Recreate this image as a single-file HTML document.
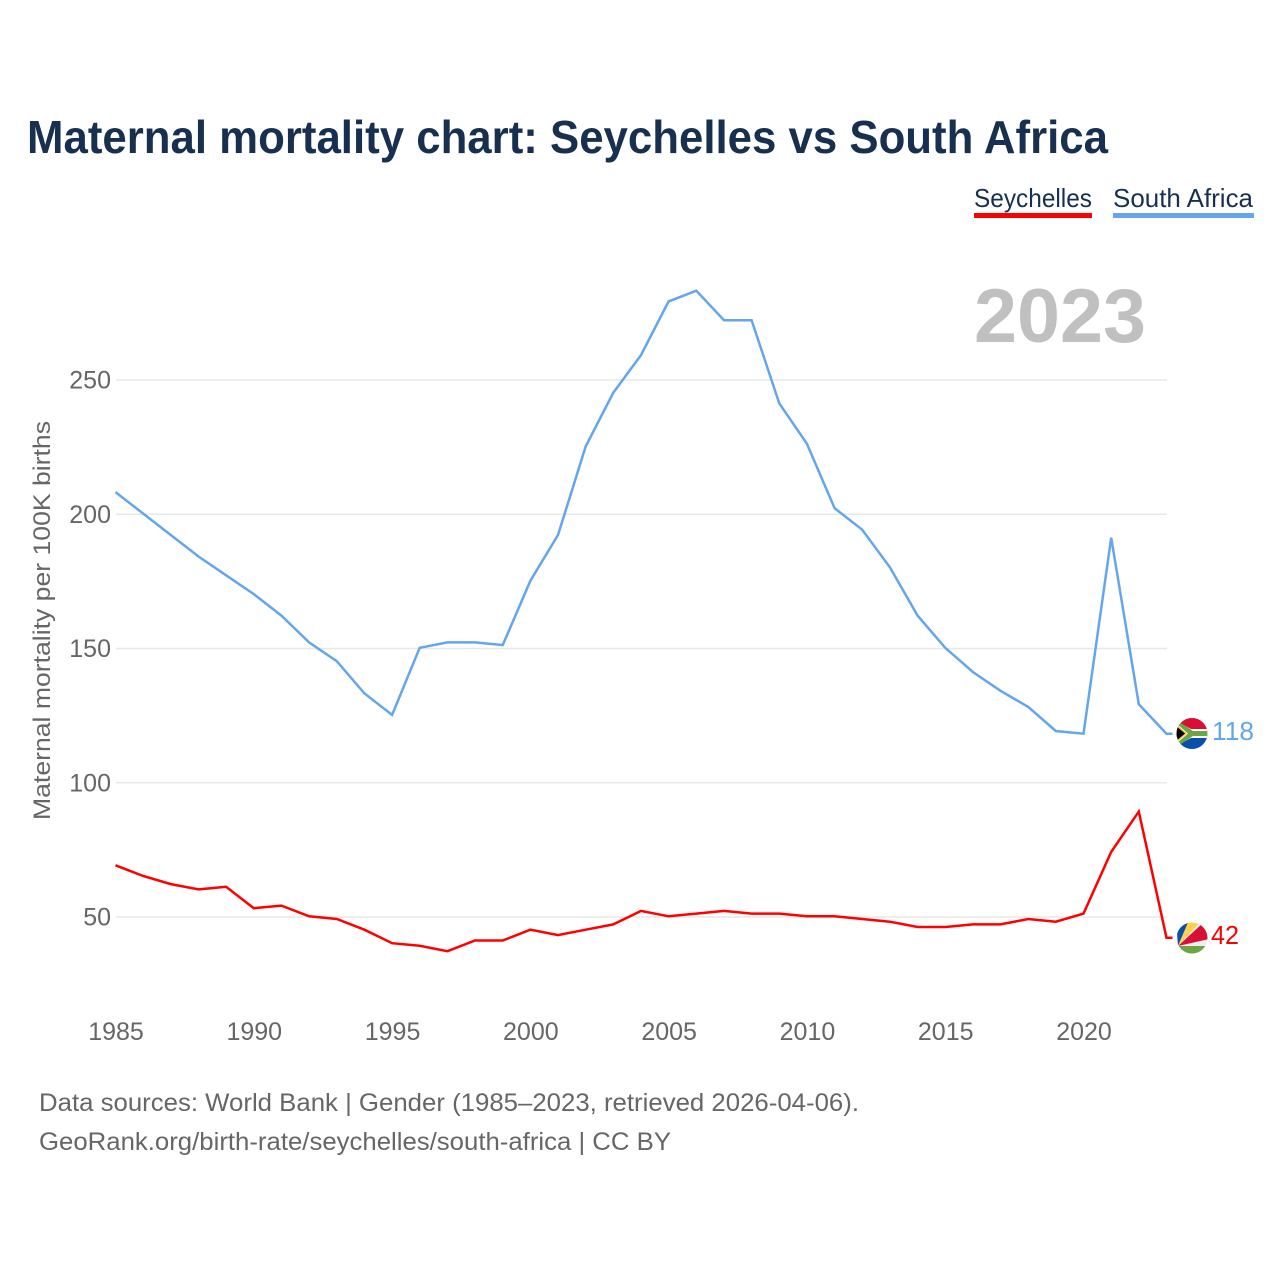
<!DOCTYPE html>
<html lang="en">
<head>
<meta charset="utf-8">
<title>Maternal mortality chart: Seychelles vs South Africa</title>
<style>
html,body{margin:0;padding:0;background:#fff;}
svg{display:block;font-family:"Liberation Sans",sans-serif;}
</style>
</head>
<body>
<svg id="chart" xmlns="http://www.w3.org/2000/svg" width="1280" height="1280" viewBox="0 0 1280 1280">
  <rect width="1280" height="1280" fill="#fff"/>
  <text x="27" y="153" font-size="46" font-weight="700" fill="#18304f" textLength="1081" lengthAdjust="spacingAndGlyphs">Maternal mortality chart: Seychelles vs South Africa</text>

  <g>
    <text x="974" y="207" font-size="26" fill="#18304f" textLength="118" lengthAdjust="spacingAndGlyphs">Seychelles</text>
    <rect x="974" y="213" width="118" height="5" fill="#ff0000"/>
  </g>
  <g>
    <text x="1113" y="207" font-size="26" fill="#18304f" textLength="140" lengthAdjust="spacingAndGlyphs">South Africa</text>
    <rect x="1113" y="213" width="141" height="5" fill="#63a6ec"/>
  </g>

  <text x="974" y="342" font-size="76" font-weight="700" fill="#c0c0c0" textLength="172" lengthAdjust="spacingAndGlyphs">2023</text>

  <text transform="translate(50,820) rotate(-90)" font-size="24.5" fill="#666" textLength="399" lengthAdjust="spacingAndGlyphs">Maternal mortality per 100K births</text>

  <g id="y-axis"></g>
  <g id="x-axis"></g>
  <g id="series" transform="translate(-0.5,-0.7)"></g>

  <defs>
    <clipPath id="clip-za"><circle cx="1192" cy="733.500" r="15.500"/></clipPath>
    <clipPath id="clip-sc"><circle cx="1192" cy="938" r="15.500"/></clipPath>
  </defs>

  <g clip-path="url(#clip-za)">
    <rect x="1176" y="717" width="32" height="16" fill="#d90f36"/>
    <rect x="1176" y="733" width="32" height="17" fill="#0a4fb0"/>
    <path d="M1176 720 L1193 733.500 L1176 747 Z" fill="#f7c52e"/>
    <path d="M1176 721 L1191 729 H1208 V738 H1191 L1176 746 V743 L1187 733.500 L1176 724 Z" fill="#fff"/>
    <path d="M1178 721 L1193 731 H1208 V736 H1193 L1178 746 L1176 744 L1188 733.500 L1176 723 Z" fill="#6ea544"/>
    <path d="M1176 726 L1185 733.500 L1176 741 Z" fill="#000"/>
  </g>

  <g clip-path="url(#clip-sc)">
    <rect x="1176" y="922" width="32" height="32" fill="#eeeeee"/>
    <path d="M1178 946 L1176 918 L1190 918 Z" fill="#0a4fa8"/>
    <path d="M1178 946 L1190 918 L1204 918 Z" fill="#fdd24a"/>
    <path d="M1178 946 L1204 922 L1209 932 L1209 939 Z" fill="#d90f36"/>
    <path d="M1178 946 L1209 946 L1209 956 L1178 956 Z" fill="#6ea544"/>
  </g>

  <text id="end-label-south-africa" x="1212" y="740" font-size="26" fill="#63a6ec" textLength="42" lengthAdjust="spacingAndGlyphs"></text>
  <text id="end-label-seychelles" x="1211" y="944" font-size="26" fill="#ff0000" textLength="28" lengthAdjust="spacingAndGlyphs"></text>

  <text x="39" y="1111" font-size="25" fill="#666" textLength="820" lengthAdjust="spacingAndGlyphs">Data sources: World Bank | Gender (1985–2023, retrieved 2026-04-06).</text>
  <text x="39" y="1150" font-size="25" fill="#666" textLength="632" lengthAdjust="spacingAndGlyphs">GeoRank.org/birth-rate/seychelles/south-africa | CC BY</text>
</svg>
<script>
const years = [1985,1986,1987,1988,1989,1990,1991,1992,1993,1994,1995,1996,1997,1998,1999,2000,2001,2002,2003,2004,2005,2006,2007,2008,2009,2010,2011,2012,2013,2014,2015,2016,2017,2018,2019,2020,2021,2022,2023];
const southAfrica = [208,200,192,184,177,170,162,152,145,133,125,150,152,152,151,175,192,225,245,259,279,283,272,272,241,226,202,194,180,162,150,141,134,128,119,118,191,129,118];
const seychelles = [69,65,62,60,61,53,54,50,49,45,40,39,37,41,41,45,43,45,47,52,50,51,52,51,51,50,50,49,48,46,46,47,47,49,48,51,74,89,42];
const yTicks = [50,100,150,200,250];
const xTicks = [1985,1990,1995,2000,2005,2010,2015,2020];

const NS = 'http://www.w3.org/2000/svg';
function xScale(year){ return 116 + (year - 1985) * (1084 - 116) / 35; }
function yScale(v){ return 917 - (v - 50) * (917 - 380) / 200; }
function make(tag, attrs, parent){
  const el = document.createElementNS(NS, tag);
  for (const k in attrs) el.setAttribute(k, attrs[k]);
  parent.appendChild(el);
  return el;
}

const yAxis = document.getElementById('y-axis');
yTicks.forEach(function(t){
  const line = make('line', {x1:116, x2:1167, y1:yScale(t), y2:yScale(t), stroke:'#e8e8e8', 'stroke-width':1.5}, yAxis);
  
  
  const label = make('text', {x:111, y:yScale(t) + 8.500, 'font-size':25, fill:'#666', 'text-anchor':'end'}, yAxis);
  
  
  label.textContent = t;
});

const xAxis = document.getElementById('x-axis');
xTicks.forEach(function(t){
  const label = make('text', {x:xScale(t), y:1040, 'font-size':25, fill:'#666', 'text-anchor':'middle'}, xAxis);
  
  
  label.textContent = t;
});

function drawSeries(values, color, name){
  const pts = values.map(function(v, i){ return xScale(years[i]).toFixed(1) + ',' + yScale(v).toFixed(1); });
  const last = values[values.length - 1];
  pts.push((xScale(years[years.length - 1]) + 6).toFixed(1) + ',' + yScale(last).toFixed(1));
  const line = make('polyline', {points:pts.join(' '), fill:'none', stroke:color, 'stroke-width':2.5, 'stroke-linejoin':'miter'}, document.getElementById('series'));
  
  
}
drawSeries(southAfrica, '#63a6ec', 'line-south-africa');
drawSeries(seychelles, '#ff0000', 'line-seychelles');

document.getElementById('end-label-south-africa').textContent = southAfrica[southAfrica.length - 1];
document.getElementById('end-label-seychelles').textContent = seychelles[seychelles.length - 1];
</script>
</body>
</html>
